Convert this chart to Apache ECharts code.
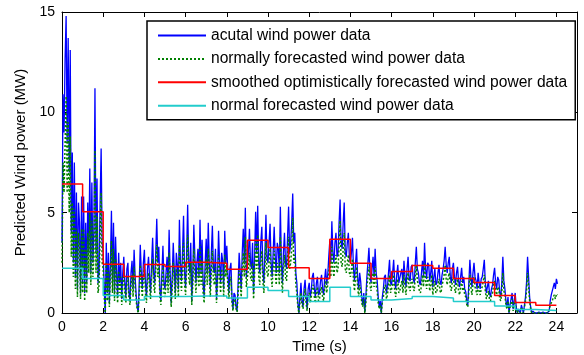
<!DOCTYPE html>
<html><head><meta charset="utf-8">
<script src="https://cdn.jsdelivr.net/npm/echarts@6/dist/echarts.min.js"></script>
<style>html,body{margin:0;padding:0;background:#fff}#c{width:584px;height:355px}</style>
</head><body><div id="c"></div>
<script>
// time step of the sampled series (s)
const dt = 0.05;
const actual = [
3.5,10.9,9.0,12.7,14.8,8.5,13.7,7.0,13.1,4.0, 8.0,2.5,7.5,1.8,6.0,1.2,5.5,4.5,1.0,5.8,
1.5,5.8,1.0,4.5,1.5,5.5,3.0,7.2,2.0,6.5, 2.5,4.0,11.2,3.0,6.7,1.5,2.0,5.5,8.2,3.5,
3.0,1.2,0.0,3.5,1.0,3.0,0.5,2.5,5.1,1.5, 4.5,1.0,3.8,2.0,0.8,3.0,1.5,2.5,0.7,2.0,
2.8,1.5,0.8,2.2,2.5,1.0,0.6,2.0,2.6,1.2, 3.15,1.8,0.9,0.3,0.05,1.5,3.4,2.0,1.2,2.5,
3.15,1.5,0.8,2.2,2.8,1.8,1.0,2.5,3.75,2.0, 1.5,3.0,4.7,2.5,3.3,1.2,0.6,2.0,3.35,1.5,
1.2,2.0,2.8,1.5,4.15,2.0,0.5,1.8,3.5,2.2, 1.0,3.0,2.4,1.2,4.65,2.5,1.6,3.0,4.85,2.0,
1.3,3.0,5.4,2.5,2.0,3.5,0.6,2.0,4.4,2.8, 1.5,2.5,3.2,1.8,4.65,2.0,3.65,1.5,0.8,2.5,
3.7,2.0,4.5,2.5,1.2,3.0,4.35,2.2,2.0,3.2, 0.7,1.8,4.1,2.5,1.5,3.0,2.6,1.2,4.1,2.5,
3.35,2.0,1.0,2.2,2.5,0.8,0.2,1.0,0.9,0.3, 0.1,1.5,3.0,2.0,1.2,3.0,4.2,2.5,5.25,1.8,
1.8,3.0,4.2,2.5,2.2,3.5,1.0,2.8,5.05,3.0, 5.35,2.5,2.0,3.5,4.3,2.2,1.5,3.0,4.9,2.8,
2.5,3.5,4.45,2.5,1.8,3.0,4.3,2.8,2.0,3.5, 3.2,2.0,5.3,2.5,1.5,3.0,4.0,2.5,2.2,3.8,
5.3,3.0,3.5,4.5,5.95,3.5,4.0,2.0,1.5,0.5, 0.0,0.8,1.5,0.6,0.3,1.2,1.65,0.8,0.2,1.2,
1.5,0.8,1.1,1.8,2.0,1.2,0.8,1.5,1.8,0.9, 1.0,1.6,1.9,1.2,0.9,1.7,2.2,1.4,1.9,2.8,
3.6,2.5,4.57,3.0,2.5,3.5,4.0,2.8,3.0,4.5, 5.65,3.5,3.2,4.5,5.5,3.0,2.8,3.5,4.0,2.8,
2.5,3.0,3.75,2.2,1.6,2.5,3.2,1.8,1.2,2.0, 1.55,0.8,0.4,1.0,0.05,0.8,1.8,2.5,3.25,2.0,
1.5,2.2,2.8,1.8,3.2,2.0,1.6,0.8,0.3,0.6, 0.0,0.8,1.2,1.8,1.9,1.0,1.3,2.0,2.65,1.5,
1.4,2.0,2.65,1.6,1.2,1.9,2.4,1.5,1.5,2.0, 2.2,1.4,2.6,1.8,1.3,2.2,2.8,1.7,1.6,2.3,
2.4,1.7,1.5,2.5,3.3,2.2,2.0,1.5,1.4,2.0, 2.6,1.8,3.5,2.2,1.7,2.5,2.4,1.6,2.0,2.6,
1.3,1.8,2.2,1.4,1.5,2.0,2.4,1.6,1.4,1.9, 2.2,2.6,3.3,2.4,2.0,2.5,2.8,1.8,1.5,2.2,
2.5,1.8,1.4,2.0,2.3,1.6,1.3,1.8,2.25,1.5, 1.8,1.2,1.05,0.6,0.4,1.5,2.65,1.8,1.3,2.0,
2.5,1.8,1.6,1.2,2.0,1.5,1.2,1.7,1.8,2.2, 2.65,1.5,1.0,1.3,1.6,1.0,0.8,1.2,1.4,1.9,
2.25,1.5,1.2,1.8,1.65,1.0,0.8,1.5,2.8,1.6, 1.2,0.6,0.3,0.8,0.0,0.4,0.7,1.0,0.2,0.6,
1.0,0.3,0.0,0.2,0.1,0.0,0.4,0.2,0.0,0.4, 0.8,1.5,2.8,1.8,0.8,0.3,0.0,0.1,0.05,0.0,
0.05,0.0,0.0,0.05,0.05,0.0,0.0,0.05,0.05,0.0, 0.0,0.0,0.0,0.1,0.6,0.9,1.1,1.3,1.5,1.2,
1.7,1.45];
const normallyForecast = [
2.5,7.5,6.0,8.5,10.8,6.0,9.5,5.0,8.8,2.8, 5.5,1.8,5.2,1.2,4.2,0.8,4.0,3.2,0.7,4.2,
1.0,4.2,0.6,3.2,1.0,4.0,2.0,5.0,1.4,4.6, 1.8,2.8,8.1,2.0,4.8,1.0,1.4,4.0,6.0,2.5,
2.2,0.8,0.0,2.5,0.6,2.1,0.3,1.8,3.6,1.0, 3.2,0.6,2.7,1.4,0.5,2.1,1.0,1.8,0.4,1.4,
2.0,1.0,0.5,1.5,1.8,0.7,0.4,1.4,1.9,0.8, 2.3,1.3,0.6,0.2,0.0,1.0,2.4,1.4,0.8,1.8,
2.3,1.0,0.5,1.6,2.0,1.3,0.7,1.8,2.7,1.4, 1.0,2.2,3.4,1.8,2.4,0.8,0.4,1.4,2.4,1.0,
0.8,1.4,2.0,1.0,3.0,1.4,0.3,1.3,2.5,1.6, 0.7,2.2,1.7,0.8,3.4,1.8,1.1,2.2,3.5,1.4,
0.9,2.2,3.9,1.8,1.4,2.5,0.4,1.4,3.2,2.0, 1.0,1.8,2.3,1.3,3.4,1.4,2.6,1.0,0.5,1.8,
2.7,1.4,3.2,1.8,0.8,2.2,3.1,1.6,1.4,2.3, 0.5,1.3,2.9,1.8,1.0,2.2,1.9,0.8,2.9,1.8,
2.4,1.4,0.7,1.6,1.8,0.5,0.1,0.7,0.6,0.2, 0.05,1.0,2.1,1.4,0.8,2.2,3.0,1.8,3.8,1.3,
1.3,2.2,3.0,1.8,1.6,2.5,0.7,2.0,3.6,2.2, 3.9,1.8,1.4,2.5,3.1,1.6,1.0,2.2,3.5,2.0,
1.8,2.5,3.2,1.8,1.3,2.2,3.1,2.0,1.4,2.5, 2.3,1.4,3.8,1.8,1.0,2.2,2.9,1.8,1.6,2.7,
3.8,2.2,2.5,3.2,4.75,2.5,2.9,1.4,1.0,0.3, 0.0,0.5,1.0,0.4,0.2,0.8,1.2,0.5,0.1,0.8,
1.0,0.5,0.8,1.3,1.4,0.8,0.5,1.0,1.3,0.6, 0.7,1.1,1.3,0.8,0.6,1.2,1.6,1.0,1.4,2.0,
2.6,1.8,3.3,2.2,1.8,2.5,2.9,2.0,2.2,3.3, 4.6,2.5,2.3,3.2,4.0,2.2,2.0,2.5,2.9,2.0,
1.8,2.2,2.7,1.6,1.1,1.8,2.3,1.3,0.8,1.4, 1.1,0.5,0.3,0.7,0.0,0.5,1.3,1.8,2.3,1.4,
1.1,1.6,2.0,1.3,2.3,1.4,1.1,0.5,0.2,0.4, 0.0,0.5,0.8,1.3,1.4,0.7,0.9,1.4,1.9,1.0,
1.0,1.4,1.9,1.1,0.8,1.3,1.7,1.0,1.1,1.4, 1.6,1.0,1.9,1.3,0.9,1.6,2.0,1.2,1.1,1.6,
1.7,1.2,1.1,1.8,2.4,1.6,1.4,1.1,1.0,1.4, 1.9,1.3,2.5,1.6,1.2,1.8,1.7,1.1,1.4,1.9,
0.9,1.3,1.6,1.0,1.1,1.4,1.7,1.1,1.0,1.4, 1.6,1.9,2.4,1.7,1.4,1.8,2.0,1.3,1.1,1.6,
1.8,1.3,1.0,1.4,1.7,1.1,0.9,1.3,1.6,1.1, 1.3,0.9,0.8,0.4,0.3,1.1,1.9,1.3,0.9,1.4,
1.8,1.3,1.1,0.9,1.4,1.1,0.9,1.2,1.3,1.6, 1.9,1.1,0.7,0.9,1.1,0.7,0.6,0.9,1.0,1.4,
1.6,1.1,0.9,1.3,1.2,0.7,0.6,1.1,2.0,1.1, 0.9,0.4,0.2,0.6,0.0,0.3,0.5,0.7,0.1,0.4,
0.7,0.2,0.0,0.1,0.1,0.0,0.3,0.1,0.0,0.3, 0.6,1.1,2.0,1.3,0.6,0.2,0.0,0.0,0.0,0.0,
0.0,0.0,0.0,0.0,0.0,0.0,0.0,0.0,0.0,0.0, 0.0,0.0,0.0,0.05,0.4,0.5,0.6,0.8,0.9,0.7,
0.95,0.9];
// hourly step values, hours 0..23 (last value held to 24)
const hours = [0,1,2,3,4,5,6,7,8,9,10,11,12,13,14,15,16,17,18,19,20,21,22,23,24];
const smoothedOptimistic = [6.43,5.05,2.43,1.82,2.42,2.32,2.53,2.48,2.18,3.63,3.27,2.25,1.72,3.68,2.48,1.72,2.07,2.37,2.23,1.72,1.52,0.87,0.52,0.38];
const normalForecast = [2.23,1.72,0.87,0.65,0.82,0.82,0.85,0.85,0.75,1.28,1.12,0.82,0.57,1.28,0.82,0.65,0.72,0.82,0.75,0.57,0.57,0.35,0.18,0.13];
const xTicks = [0,2,4,6,8,10,12,14,16,18,20,22,24];
const yTicks = [0,5,10,15];
const names = ['acutal wind power data','normally forecasted wind power data','smoothed optimistically forecasted wind power data','normal forecasted wind power data'];

const pairs = (arr) => arr.map((v, i) => [+(i * dt).toFixed(2), v]);
const steps = (arr) => hours.map((h, i) => [h, arr[Math.min(i, arr.length - 1)]]);

const FONT = '"Liberation Sans", Arial, sans-serif';
const chart = echarts.init(document.getElementById('c'), null, {renderer: 'canvas'});
const axisCommon = {
  type: 'value', splitLine: {show: false},
  axisLine: {show: true, onZero: false, lineStyle: {color: '#000', width: 1}},
  axisTick: {show: true, inside: true, length: 5, lineStyle: {color: '#000'}},
};
chart.setOption({
  animation: false,
  textStyle: {fontFamily: FONT},
  grid: {left: 62, right: 7, top: 12, bottom: 42, containLabel: false, outerBoundsMode: 'none'},
  legend: {
    orient: 'vertical', left: 147, top: 21,
    data: names,
    itemWidth: 48, itemHeight: 14, itemGap: 7.4,
    padding: [6.5, 8, 6, 10],
    borderColor: '#000', borderWidth: 1.5, backgroundColor: '#fff',
    itemStyle: {opacity: 0},
    textStyle: {fontSize: 15.6, color: '#000', fontFamily: FONT}
  },
  xAxis: [
    Object.assign({}, axisCommon, {
      min: 0, max: 25, interval: 2, position: 'bottom',
      name: 'Time (s)', nameLocation: 'middle', nameGap: 25,
      nameTextStyle: {fontSize: 15, color: '#000', fontFamily: FONT},
      axisLabel: {fontSize: 14, color: '#000', margin: 7, showMaxLabel: false,
        formatter: (v) => xTicks.includes(v) ? String(v) : ''}
    }),
    Object.assign({}, axisCommon, {
      min: 0, max: 25, interval: 2, position: 'top', axisLabel: {show: false}
    })
  ],
  yAxis: [
    Object.assign({}, axisCommon, {
      min: 0, max: 15, interval: 5, position: 'left',
      name: 'Predicted Wind power (MW)', nameLocation: 'middle', nameGap: 32,
      nameTextStyle: {fontSize: 15, color: '#000', fontFamily: FONT},
      axisLabel: {fontSize: 14, color: '#000', margin: 7,
        formatter: (v) => yTicks.includes(v) ? String(v) : ''}
    }),
    Object.assign({}, axisCommon, {
      min: 0, max: 15, interval: 5, position: 'right', axisLabel: {show: false}
    })
  ],
  series: [
    {name: names[0], type: 'line', data: pairs(actual), symbol: 'none', smooth: false,
      lineStyle: {color: '#0000ff', width: 1.3}, itemStyle: {color: '#0000ff'}},
    {name: names[1], type: 'line', data: pairs(normallyForecast), symbol: 'none', smooth: false,
      lineStyle: {color: '#008000', width: 1.5, type: [2, 2]}, itemStyle: {color: '#008000'}},
    {name: names[2], type: 'line', data: steps(smoothedOptimistic), step: 'end', symbol: 'none',
      lineStyle: {color: '#ff0000', width: 1.5}, itemStyle: {color: '#ff0000'}},
    {name: names[3], type: 'line', data: steps(normalForecast), step: 'end', symbol: 'none',
      lineStyle: {color: '#22cccc', width: 1.5}, itemStyle: {color: '#22cccc'}}
  ]
});
</script></body></html>
